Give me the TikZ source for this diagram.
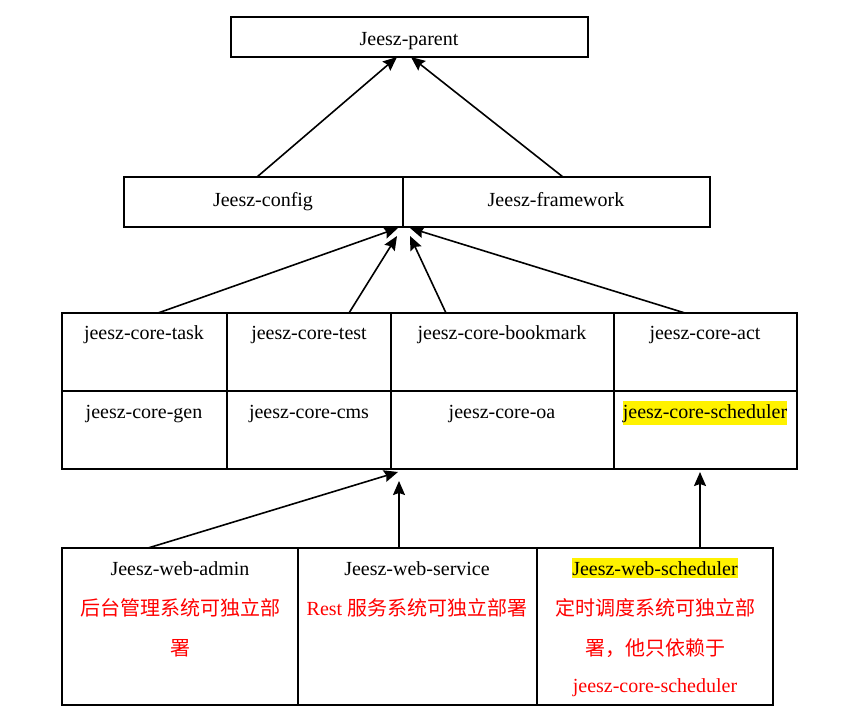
\documentclass[tikz,border=0pt]{standalone}
\usepackage{fontspec}
\setmainfont{Liberation Serif}
\newfontfamily\cjk{Noto Sans CJK SC}
\usetikzlibrary{arrows.meta}
\begin{document}
\begin{tikzpicture}[x=1pt,y=-1pt,
  cell/.style={draw=black,line width=1.1pt,minimum width=#1,anchor=north west,inner sep=0pt,outer sep=0pt},
  lbl/.style={anchor=base,inner sep=0pt,font=\fontsize{20}{24}\selectfont},
  red/.style={lbl,text=red},
  hl/.style={lbl,fill=yellow,inner ysep=3pt,inner xsep=0pt},
  arr/.style={line width=1.6pt,-{Stealth[length=14pt,width=12pt,inset=2pt]}}]
\useasboundingbox (0,0) rectangle (848,721);
% top
\node[cell=357pt,minimum height=40pt] (parent) at (231,17) {};
\node[lbl] (tparent) at (409,45) {Jeesz-parent};
% second row
\node[cell=279pt,minimum height=50pt] (config) at (124,177) {};
\node[cell=307pt,minimum height=50pt] (framework) at (403,177) {};
\node[lbl] (tconfig) at (263,206) {Jeesz-config};
\node[lbl] (tframework) at (556,206) {Jeesz-framework};
% core grid
\node[cell=165pt,minimum height=78pt] (task) at (62,313) {};
\node[cell=164pt,minimum height=78pt] (test) at (227,313) {};
\node[cell=223pt,minimum height=78pt] (bookmark) at (391,313) {};
\node[cell=183pt,minimum height=78pt] (act) at (614,313) {};
\node[cell=165pt,minimum height=78pt] (gen) at (62,391) {};
\node[cell=164pt,minimum height=78pt] (cms) at (227,391) {};
\node[cell=223pt,minimum height=78pt] (oa) at (391,391) {};
\node[cell=183pt,minimum height=78pt] (sched) at (614,391) {};
\node[lbl] (ttask) at (144,339) {jeesz-core-task};
\node[lbl] (ttest) at (309,339) {jeesz-core-test};
\node[lbl] (tbookmark) at (502,339) {jeesz-core-bookmark};
\node[lbl] (tact) at (705,339) {jeesz-core-act};
\node[lbl] (tgen) at (144,418) {jeesz-core-gen};
\node[lbl] (tcms) at (309,418) {jeesz-core-cms};
\node[lbl] (toa) at (502,418) {jeesz-core-oa};
\node[hl] (tsched) at (705,418) {jeesz-core-scheduler};
% bottom row
\node[cell=236pt,minimum height=157pt] (admin) at (62,548) {};
\node[cell=239pt,minimum height=157pt] (service) at (298,548) {};
\node[cell=236pt,minimum height=157pt] (websched) at (537,548) {};
\node[lbl] (tadmin) at (180,575) {Jeesz-web-admin};
\node[red] (radmin1) at (180,615) {\cjk 后台管理系统可独立部};
\node[red] (radmin2) at (180,655) {\cjk 署};
\node[lbl] (tservice) at (417,575) {Jeesz-web-service};
\node[red] (rservice) at (417,615) {Rest \cjk 服务系统可独立部署};
\node[hl] (twebsched) at (655,575) {Jeesz-web-scheduler};
\node[red] (rws1) at (655,615) {\cjk 定时调度系统可独立部};
\node[red] (rws2) at (655,655) {\cjk 署，他只依赖于};
\node[red] (rws3) at (655,692) {jeesz-core-scheduler};
% connector end points
\coordinate (a1s) at (257,177); \coordinate (a1e) at (397,57);
\coordinate (a2s) at (563,177); \coordinate (a2e) at (411,57);
\coordinate (b1s) at (158,313); \coordinate (b1e) at (398,228);
\coordinate (b2s) at (349,313); \coordinate (b2e) at (397,236);
\coordinate (b3s) at (446,313); \coordinate (b3e) at (410,236);
\coordinate (b4s) at (685,313); \coordinate (b4e) at (410,228);
\coordinate (c1s) at (148,548); \coordinate (c1e) at (398,472);
\coordinate (c2s) at (399,548); \coordinate (c2e) at (399,481);
\coordinate (c3s) at (700,548); \coordinate (c3e) at (700,472);
\draw[arr] (a1s) -- (a1e);
\draw[arr] (a2s) -- (a2e);
\draw[arr] (b1s) -- (b1e);
\draw[arr] (b2s) -- (b2e);
\draw[arr] (b3s) -- (b3e);
\draw[arr] (b4s) -- (b4e);
\draw[arr] (c1s) -- (c1e);
\draw[arr] (c2s) -- (c2e);
\draw[arr] (c3s) -- (c3e);
\end{tikzpicture}
\end{document}
